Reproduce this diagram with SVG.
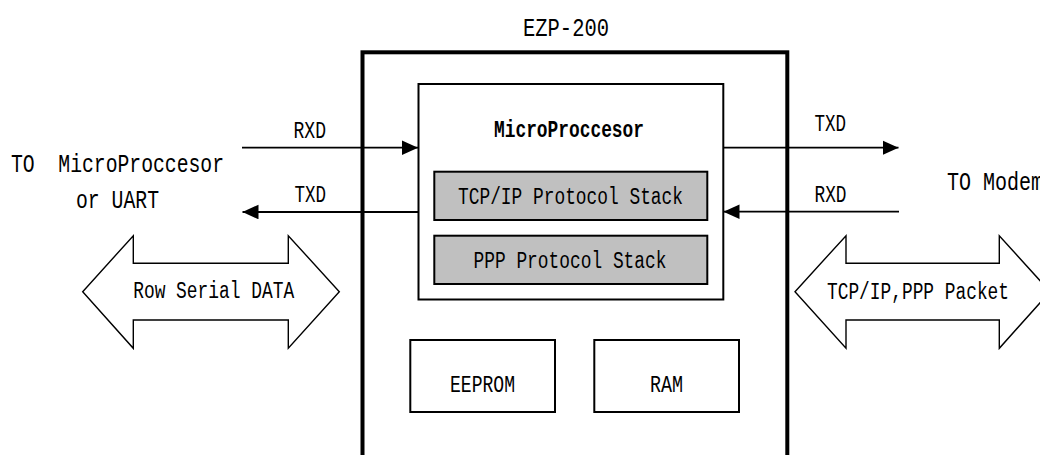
<svg xmlns="http://www.w3.org/2000/svg" width="1040" height="455" viewBox="0 0 1040 455">
<style>
.t{font-family:"Liberation Mono","DejaVu Sans Mono",monospace;fill:#000}
.s{font-size:23px}
.l{font-size:26px}
.b{font-weight:bold}
.box{fill:#fff;stroke:#000;stroke-width:2}
.gray{fill:#c0c0c0;stroke:#000;stroke-width:2}
.outer{fill:none;stroke:#000;stroke-width:4}
.wire{stroke:#000;stroke-width:1.8;fill:none;marker-end:url(#ah)}
.big{fill:#fff;stroke:#000;stroke-width:1.4;stroke-linejoin:miter}
</style>
<defs>
<marker id="ah" markerUnits="userSpaceOnUse" markerWidth="16" markerHeight="15" refX="16" refY="7.3" orient="auto">
<path d="M0,0 L16,7.3 L0,14.6 z" fill="#000"/>
</marker>
</defs>
<rect width="1040" height="455" fill="#fff"/>

<g id="ezp200">
<rect class="outer" x="362.5" y="52.3" width="424.8" height="430"/>
<text class="t l" x="566" y="36" text-anchor="middle" textLength="86" lengthAdjust="spacingAndGlyphs">EZP-200</text>
</g>

<g id="microprocessor">
<rect class="box" x="418.5" y="84" width="304.8" height="215.5"/>
<text class="t s b" x="569" y="136.7" text-anchor="middle" textLength="150" lengthAdjust="spacingAndGlyphs">MicroProccesor</text>
</g>

<g id="tcpip-stack">
<rect class="gray" x="434.3" y="171.7" width="273" height="48.3"/>
<text class="t s" x="570.5" y="204" text-anchor="middle" textLength="225" lengthAdjust="spacingAndGlyphs">TCP/IP Protocol Stack</text>
</g>

<g id="ppp-stack">
<rect class="gray" x="434.3" y="235.7" width="273" height="48.3"/>
<text class="t s" x="570" y="268" text-anchor="middle" textLength="193" lengthAdjust="spacingAndGlyphs">PPP Protocol Stack</text>
</g>

<g id="eeprom">
<rect class="box" x="410.3" y="340" width="144.7" height="72"/>
<text class="t s" x="482.5" y="392.3" text-anchor="middle" textLength="65" lengthAdjust="spacingAndGlyphs">EEPROM</text>
</g>

<g id="ram">
<rect class="box" x="594.3" y="340" width="144.7" height="72"/>
<text class="t s" x="666.5" y="392.3" text-anchor="middle" textLength="33" lengthAdjust="spacingAndGlyphs">RAM</text>
</g>

<g id="host">
<text class="t l" x="11" y="171.7" xml:space="preserve" textLength="213" lengthAdjust="spacingAndGlyphs">TO  MicroProccesor</text>
<text class="t l" x="117.5" y="208.3" text-anchor="middle" textLength="83" lengthAdjust="spacingAndGlyphs">or UART</text>
</g>

<g id="modem">
<text class="t l" x="947" y="190" textLength="96" lengthAdjust="spacingAndGlyphs">TO Modem</text>
</g>

<g id="connectors">
<line class="wire" x1="242" y1="147.7" x2="418" y2="147.7"/>
<text class="t s" x="293.5" y="138.3" textLength="32.5" lengthAdjust="spacingAndGlyphs">RXD</text>
<line class="wire" x1="418" y1="212" x2="242.5" y2="212"/>
<text class="t s" x="294.5" y="201.7" textLength="31.5" lengthAdjust="spacingAndGlyphs">TXD</text>
<line class="wire" x1="723.5" y1="147.7" x2="898.5" y2="147.7"/>
<text class="t s" x="814.5" y="130.7" textLength="31.5" lengthAdjust="spacingAndGlyphs">TXD</text>
<line class="wire" x1="899" y1="211.7" x2="723.5" y2="211.7"/>
<text class="t s" x="814.5" y="202.3" textLength="32" lengthAdjust="spacingAndGlyphs">RXD</text>

<g id="serial-data">
<polygon class="big" points="82.7,291.7 133.3,235.7 133.3,263.3 288.3,263.3 288.3,235.7 339.3,291.7 288.3,348.3 288.3,320 133.3,320 133.3,348.3"/>
<text class="t s" x="213.7" y="298.3" text-anchor="middle" textLength="161" lengthAdjust="spacingAndGlyphs">Row Serial DATA</text>
</g>
<g id="packet">
<polygon class="big" points="795,291.7 846,235.7 846,263.3 999.3,263.3 999.3,235.7 1050,291.7 999.3,348.3 999.3,320 846,320 846,348.3"/>
<text class="t s" x="918" y="299" text-anchor="middle" textLength="182" lengthAdjust="spacingAndGlyphs">TCP/IP,PPP Packet</text>
</g>
</g>
</svg>
